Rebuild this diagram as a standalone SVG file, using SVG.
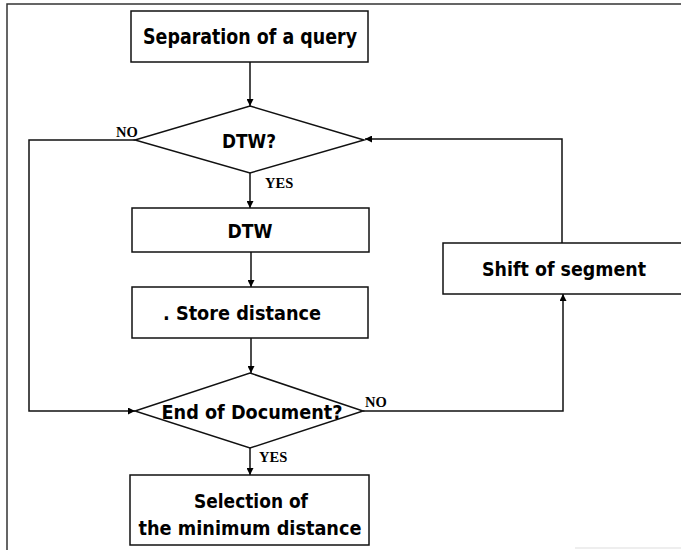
<svg xmlns="http://www.w3.org/2000/svg" width="681" height="550" viewBox="0 0 681 550">
<style>
.box{fill:#fff;stroke:#111;stroke-width:1.5}
.lbl{font-family:"DejaVu Sans",Verdana,sans-serif;font-weight:bold;fill:#000;text-anchor:middle}
.yn{font-family:"Liberation Serif","Times New Roman",serif;font-weight:bold;font-size:14.5px;fill:#000}
.ln{fill:none;stroke:#111;stroke-width:1.5}
</style>
<defs>
<marker id="ah" viewBox="0 0 10 10" refX="10" refY="5" markerWidth="8" markerHeight="7" markerUnits="userSpaceOnUse" orient="auto">
<path d="M0,0 L10,5 L0,10 Z" fill="#000"/>
</marker>
</defs>
<rect width="681" height="550" fill="#fff"/>
<g id="frame">
<path d="M7,550 L7,4 L681,4" fill="none" stroke="#333" stroke-width="1.5"/>
<path d="M575,548 L681,548" stroke="#ddd" stroke-width="1"/>
</g>
<g id="connectors">
<path class="ln" d="M250,62 L250,106" marker-end="url(#ah)"/>
<path class="ln" d="M250,173 L250,208" marker-end="url(#ah)"/>
<path class="ln" d="M251,252 L251,287" marker-end="url(#ah)"/>
<path class="ln" d="M251,338 L251,373" marker-end="url(#ah)"/>
<path class="ln" d="M250,448 L250,475" marker-end="url(#ah)"/>
<path class="ln" d="M135,140 L29,140 L29,411 L135,411" marker-end="url(#ah)"/>
<path class="ln" d="M363,411 L563,411 L563,294" marker-end="url(#ah)"/>
<path class="ln" d="M562,243 L562,139 L365,139" marker-end="url(#ah)"/>
<text class="yn" x="116" y="137">NO</text>
<text class="yn" x="265" y="188">YES</text>
<text class="yn" x="365" y="407">NO</text>
<text class="yn" x="259" y="462">YES</text>
</g>
<g id="separation">
<rect class="box" x="131" y="11" width="237" height="51"/>
<text class="lbl" x="250" y="44" font-size="21" textLength="214" lengthAdjust="spacingAndGlyphs">Separation of a query</text>
</g>
<g id="dtw-decision">
<polygon class="box" points="250,106 364,140 250,173 135,140"/>
<text class="lbl" x="249" y="148" font-size="19" textLength="54" lengthAdjust="spacingAndGlyphs">DTW?</text>
</g>
<g id="dtw">
<rect class="box" x="132" y="208" width="237" height="44"/>
<text class="lbl" x="250" y="238" font-size="19" textLength="45" lengthAdjust="spacingAndGlyphs">DTW</text>
</g>
<g id="store">
<rect class="box" x="132" y="287" width="236" height="51"/>
<text class="lbl" x="242" y="320" font-size="20" textLength="158" lengthAdjust="spacingAndGlyphs">. Store distance</text>
</g>
<g id="end-decision">
<polygon class="box" points="250,373 363,411 250,448 135,411"/>
<text class="lbl" x="252" y="419" font-size="20" textLength="181" lengthAdjust="spacingAndGlyphs">End of Document?</text>
</g>
<g id="shift">
<rect class="box" x="443" y="243" width="245" height="51"/>
<text class="lbl" x="564" y="276" font-size="20" textLength="164" lengthAdjust="spacingAndGlyphs">Shift of segment</text>
</g>
<g id="selection">
<rect class="box" x="130" y="475" width="239" height="70"/>
<text class="lbl" x="251" y="508" font-size="20" textLength="114" lengthAdjust="spacingAndGlyphs">Selection of</text>
<text class="lbl" x="250" y="535" font-size="20" textLength="223" lengthAdjust="spacingAndGlyphs">the minimum distance</text>
</g>
</svg>
